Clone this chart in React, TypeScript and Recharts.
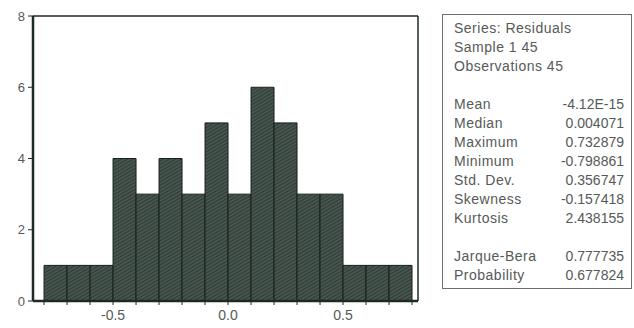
import { Bar, BarChart, ReferenceLine, XAxis, YAxis } from 'recharts';

// histogram of residuals, bins of width 0.1
const binMids = [-0.75, -0.65, -0.55, -0.45, -0.35, -0.25, -0.15, -0.05, 0.05, 0.15, 0.25, 0.35, 0.45, 0.55, 0.65, 0.75];
const binCounts = [1, 1, 1, 4, 3, 4, 3, 5, 3, 6, 5, 3, 3, 1, 1, 1];
const xTicks = [-0.8, -0.7, -0.6, -0.5, -0.4, -0.3, -0.2, -0.1, 0, 0.1, 0.2, 0.3, 0.4, 0.5, 0.6, 0.7, 0.8];
const xLabels = [-0.5, 0, 0.5];
const yTicks = [0, 2, 4, 6, 8];

const headerLines = ['Series: Residuals', 'Sample 1 45', 'Observations 45'];
const statNames = ['Mean', 'Median', 'Maximum', 'Minimum', 'Std. Dev.', 'Skewness', 'Kurtosis'];
const statValues = ['-4.12E-15', '0.004071', '0.732879', '-0.798861', '0.356747', '-0.157418', '2.438155'];
const testNames = ['Jarque-Bera', 'Probability'];
const testValues = ['0.777735', '0.677824'];

const data = binMids.map((mid, i) => ({ mid, count: binCounts[i] }));

const xDomain = [-0.848, 0.826];
const frameColor = '#1f2a24';
const textColor = '#555a57';
const font = '"Liberation Sans", Arial, sans-serif';

function formatX(value: number) {
  const hit = xLabels.some((v) => Math.abs(v - value) < 1e-6);
  return hit ? value.toFixed(1) : '';
}

function StatRow({ name, value }: { name: string; value: string }) {
  return (
    <div style={{ display: 'flex', justifyContent: 'space-between', height: 19, lineHeight: '19px' }}>
      <span style={{ letterSpacing: 0.5 }}>{name}</span>
      <span>{value}</span>
    </div>
  );
}

export default function App() {
  return (
    <div style={{ position: 'absolute', left: 0, top: 0, width: 634, height: 328, background: '#fff' }}>
      <BarChart
        width={430}
        height={328}
        data={data}
        barCategoryGap={0}
        margin={{ top: 16, right: 12, left: 0, bottom: 5 }}
      >
        <defs>
          <pattern id="hatch" width="3" height="3" patternUnits="userSpaceOnUse" patternTransform="rotate(60)">
            <rect width="3" height="3" fill="#485650" />
            <line x1="0" y1="0" x2="0" y2="3" stroke="#242e28" strokeWidth="1.4" />
          </pattern>
        </defs>
        <XAxis
          dataKey="mid"
          type="number"
          domain={xDomain}
          ticks={xTicks}
          interval={0}
          allowDataOverflow
          tickFormatter={formatX}
          height={22}
          tickSize={4}
          tickMargin={5}
          tick={{ fontSize: 14, fill: textColor, fontFamily: font }}
          axisLine={{ stroke: frameColor, strokeWidth: 2.5 }}
          tickLine={{ stroke: frameColor }}
        />
        <YAxis
          domain={[0, 8]}
          ticks={yTicks}
          width={33}
          tickSize={5}
          tickMargin={3}
          tick={{ fontSize: 13, fill: textColor, fontFamily: font }}
          axisLine={{ stroke: frameColor, strokeWidth: 2.5 }}
          tickLine={{ stroke: frameColor }}
        />
        <Bar dataKey="count" fill="url(#hatch)" stroke="#18201b" strokeWidth={1} isAnimationActive={false} />
        {/* top and right sides of the frame */}
        <ReferenceLine y={8} stroke={frameColor} strokeWidth={1.5} ifOverflow="visible" />
        <ReferenceLine x={xDomain[1]} stroke={frameColor} strokeWidth={1.5} ifOverflow="visible" />
      </BarChart>

      <div
        style={{
          position: 'absolute',
          left: 442,
          top: 14,
          width: 190,
          height: 275,
          border: '1px solid #6a6f6c',
          boxSizing: 'border-box',
          padding: '4px 7px 0 11px',
          fontFamily: font,
          fontSize: 14,
          color: textColor,
        }}
      >
        {headerLines.map((line) => (
          <div key={line} style={{ height: 19, lineHeight: '19px', letterSpacing: 0.5 }}>
            {line}
          </div>
        ))}
        <div style={{ height: 19 }} />
        {statNames.map((name, i) => (
          <StatRow key={name} name={name} value={statValues[i]} />
        ))}
        <div style={{ height: 19 }} />
        {testNames.map((name, i) => (
          <StatRow key={name} name={name} value={testValues[i]} />
        ))}
      </div>
    </div>
  );
}
